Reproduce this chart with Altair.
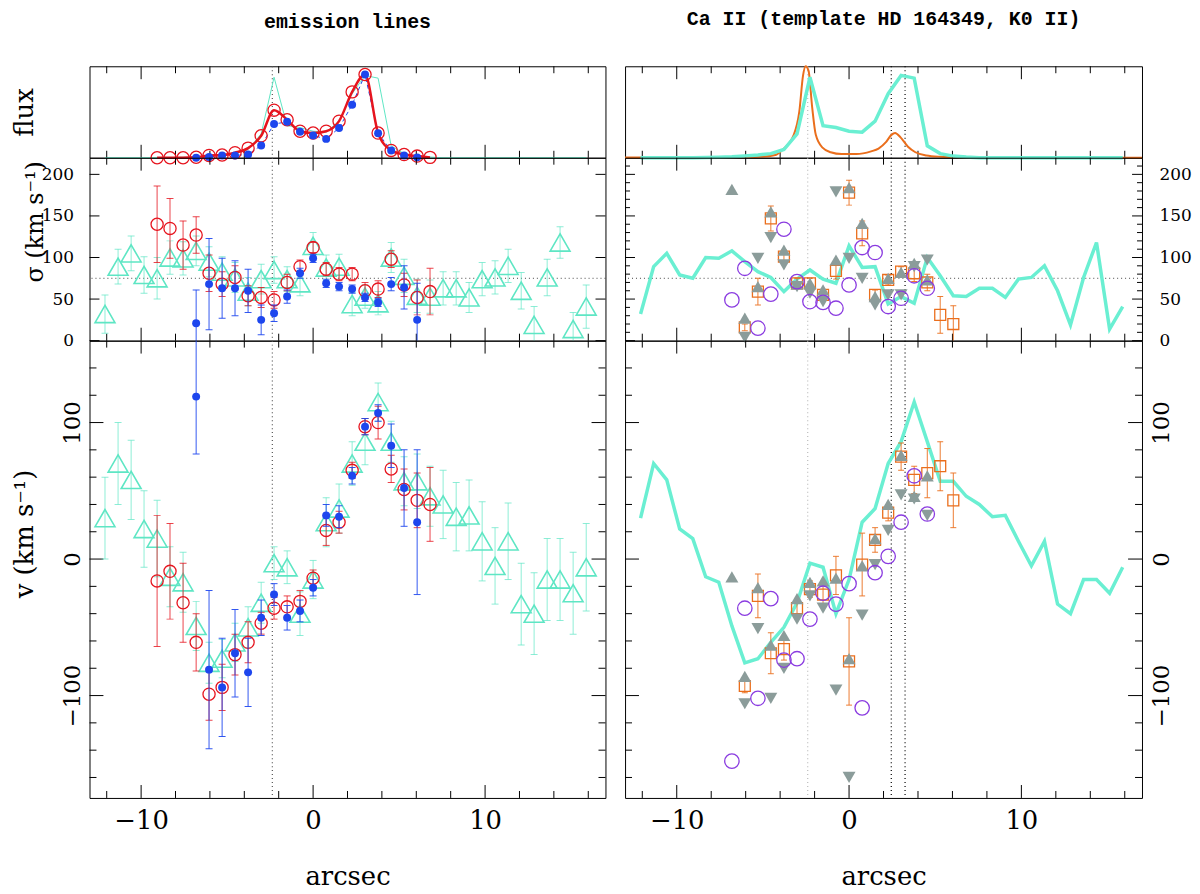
import altair as alt
import pandas as pd

# slit positions (arcsec), one spaxel every 0.756"
pos = [-12.10, -11.34, -10.58, -9.83, -9.07, -8.32, -7.56, -6.80, -6.05, -5.29,
       -4.54, -3.78, -3.02, -2.27, -1.51, -0.76, 0.00, 0.76, 1.51, 2.27,
       3.02, 3.78, 4.54, 5.29, 6.05, 6.80, 7.56, 8.32, 9.07, 9.83,
       10.58, 11.34, 12.10, 12.85, 13.61, 14.36, 15.12, 15.88]

# cyan triangles (left) / thick cyan line (right)
cyan_flux = [0, 0, 0, 0, 0, 0.003, 0.005, 0.01, 0.02, 0.03, 0.045, 0.09, 0.26, 0.88,
             0.35, 0.33, 0.29, 0.28, 0.40, 0.70, 0.90, 0.87, 0.13, 0.045, 0.018, 0.007,
             0, 0, 0, 0, 0, 0, 0, 0, 0, 0, 0, 0]
cyan_sig = [32, 89, 105, 79, 75, 100, 99, 108, 95, 83, 76, 59, 74, 85, 74, 69, 114, 88, 89,
            44, 53, 45, 100, 78, 54, 53, 63, 63, 52, 74, 76, 90, 60, 19, 76, 118, 14, 41]
cyan_sig_err = [23, 21, 21, 22, 25, 20, 20, 18, 18, 18, 18, 17, 18, 16, 15, 15, 16, 15, 15,
                14, 14, 14, 18, 20, 20, 20, 20, 20, 18, 20, 20, 20, 22, 22, 22, 19, 20, 26]
cyan_v = [30, 70, 58, 22, 15, -13, -17, -49, -76, -73, -61, -50, -32, -3, -6, -40, -15, 27, 37,
          70, 86, 115, 86, 57, 57, 46, 40, 31, 32, 13, -5, 13, -33, -40, -15, -15, -25, -6]
cyan_v_err = [30, 30, 29, 28, 28, 22, 22, 18, 15, 14, 14, 15, 15, 12, 12, 16, 14, 18, 18,
              16, 17, 14, 15, 18, 20, 22, 25, 25, 26, 29, 28, 28, 30, 30, 30, 30, 30, 32]

# red open circles
red_pos = pos[4:26]
red_flux = [0, 0, 0, 0.005, 0.025, 0.03, 0.055, 0.105, 0.24, 0.52, 0.415, 0.29, 0.27,
            0.29, 0.40, 0.72, 0.91, 0.27, 0.08, 0.035, 0.018, 0.004]
red_sig = [140, 135, 115, 127, 81, 68, 76, 54, 52, 49, 70, 89, 112, 86, 80, 80, 60, 62, 98, 67, 52, 59]
red_sig_err = [46, 36, 29, 22, 22, 15, 14, 12, 12, 10, 10, 8, 6, 8, 8, 8, 10, 10, 10, 14, 21, 28]
red_v = [-16, -9, -32, -61, -99, -94, -70, -61, -47, -36, -35, -31, -14, 21, 27, 65, 97, 100, 66, 51, 43, 40]
red_v_err = [48, 35, 29, 21, 19, 17, 15, 15, 8, 8, 8, 8, 6, 11, 8, 6, 6, 12, 10, 15, 20, 27]

# blue filled circles
blue_pos = pos[7:25]
blue_flux = [0, 0.007, 0.025, 0.025, 0.036, 0.134, 0.368, 0.393, 0.285, 0.242, 0.206,
             0.325, 0.58, 0.91, 0.267, 0.08, 0.025, 0.004]
blue_sig = [21, 68, 63, 63, 60, 25, 33, 53, 81, 99, 69, 65, 62, 52, 46, 68, 64, 25]
blue_sig_err = [40, 55, 36, 33, 26, 18, 10, 8, 6, 5, 5, 5, 5, 5, 5, 8, 26, 44]
blue_v = [119, -81, -94, -69, -83, -43, -26, -43, -38, -21, 32, 31, 61, 97, 107, 83, 52, 27]
blue_v_err = [42, 58, 36, 32, 25, 13, 8, 9, 8, 6, 8, 8, 6, 6, 6, 16, 28, 53]

# Ca II: grey triangles up / down, purple circles, orange squares
up_pos = pos[7:23]
up_sig = [182, 27, 65, 155, 109, 68, 69, 61, 97, 184, 141, 53, 75, 82, 93, 73]
up_v = [-13, -86, -21, -63, -56, -29, -17, -16, -14, -73, -5, 15, 40, 76, 46, 61]
down_pos = pos[8:23]
down_sig = [4, 99, 124, 91, 65, 57, 47, 179, 99, 75, 43, 55, 55, 89, 97]
down_v = [-106, -51, -102, -80, -44, -27, -36, -96, -160, -41, -4, 21, 47, 44, 32]
purple_pos = pos[7:23]
purple_sig = [49, 87, 15, 56, 134, 71, 47, 46, 39, 67, 112, 106, 41, 51, 78, 63]
purple_v = [-148, -36, -102, -29, -74, -73, -44, -25, -33, -18, -109, -10, 2, 27, 61, 33]
sq_pos = pos[8:25]
sq_sig = [16, 59, 147, 101, 69, 69, 55, 84, 178, 129, 55, 73, 83, 81, 70, 31, 20]
sq_sig_err = [4, 16, 15, 8, 6, 6, 6, 10, 15, 15, 6, 6, 6, 10, 10, 22, 22]
sq_v = [-93, -27, -69, -66, -36, -22, -26, -12, -75, -4, 14, 34, 75, 58, 63, 68, 43]
sq_v_err = [5, 16, 15, 8, 6, 6, 8, 14, 32, 23, 9, 6, 10, 10, 18, 18, 20]

# orange high-resolution flux profile (right, top)
ca_x = [-13.0, -8.0, -6.85, -5.13, -4.28, -3.85, -3.21, -2.89, -2.67, -2.52, -2.35, -2.14,
        -1.93, -1.54, -1.07, -0.43, 0.43, 1.28, 1.71, 2.14, 2.46, 2.67, 3.0, 3.42, 3.85,
        4.49, 5.35, 6.42, 8.13, 17.0]
ca_flux = [0.003, 0.003, 0.004, 0.01, 0.03, 0.09, 0.25, 0.5, 0.9, 1.0, 0.95, 0.55, 0.25,
           0.11, 0.06, 0.04, 0.04, 0.07, 0.1, 0.17, 0.25, 0.27, 0.22, 0.12, 0.06, 0.025,
           0.01, 0.003, 0.0, 0.0]

left_mark = [-2.37]
right_grey_mark = [-2.4]
right_marks = [2.45, 3.25]
sig_ref = [75]

x_major = [-10, 0, 10]
x_minor = [-12, -8, -6, -4, -2, 2, 4, 6, 8, 12, 14, 16]
sig_major = [0, 50, 100, 150, 200]
sig_minor = [10, 20, 30, 40, 60, 70, 80, 90, 110, 120, 130, 140, 160, 170, 180, 190, 210]
v_major = [-100, 0, 100]
v_minor = [-160, -140, -120, -80, -60, -40, -20, 20, 40, 60, 80, 120, 140]

CYAN = '#5ee6c4'
CYAN_LINE = '#6aefd2'
RED = '#e6141e'
BLUE = '#1d46ee'
PURPLE = '#8a3be0'
GRAY = '#8b9c9a'
ORANGE = '#ea6e1c'
FONT = 'DejaVu Serif'

WL, WR = 519, 520
HF, HS, HV = 92, 184, 460

XS = alt.Scale(domain=[-13, 17], nice=False, zero=False)
FS = alt.Scale(domain=[0, 1], nice=False, zero=False)
SS = alt.Scale(domain=[0, 220], nice=False, zero=False)
VS = alt.Scale(domain=[-175, 160], nice=False, zero=False)


def frame(x, y, err=None):
    df = pd.DataFrame({'x': x, 'y': y})
    if err is not None:
        df['lo'] = df['y'] - pd.Series(err)
        df['hi'] = df['y'] + pd.Series(err)
    return df


# every layer of one panel gets the same axis objects so Vega-Lite merges them cleanly
class Panel:
    def __init__(self, w, h, yscale, xaxis=None, yaxis=None):
        self.w, self.h, self.ys = w, h, yscale
        self.xa, self.ya = xaxis, yaxis
        self.layers = []

    def X(self, field='x'):
        return alt.X(f'{field}:Q', scale=XS, axis=self.xa)

    def Y(self, field='y'):
        return alt.Y(f'{field}:Q', scale=self.ys, axis=self.ya)

    def ticks(self, ymaj=(), ymin=(), ylen=(12, 6)):
        for vals, n in ((x_major, 13), (x_minor, 7)):
            c = alt.Chart(pd.DataFrame({'t': vals})).mark_rule(color='black', strokeWidth=1)
            self.layers.append(c.encode(x=self.X('t'), y=alt.value(0), y2=alt.value(n)))
            self.layers.append(c.encode(x=self.X('t'), y=alt.value(self.h), y2=alt.value(self.h - n)))
        for vals, n in ((ymaj, ylen[0]), (ymin, ylen[1])):
            if len(vals) == 0:
                continue
            c = alt.Chart(pd.DataFrame({'t': vals})).mark_rule(color='black', strokeWidth=1)
            self.layers.append(c.encode(y=self.Y('t'), x=alt.value(0), x2=alt.value(n)))
            self.layers.append(c.encode(y=self.Y('t'), x=alt.value(self.w), x2=alt.value(self.w - n)))
        return self

    def vlines(self, vals, color):
        self.layers.append(alt.Chart(pd.DataFrame({'x': vals})).mark_rule(
            color=color, strokeDash=[1, 3], strokeWidth=1.2).encode(x=self.X()))
        return self

    def hline(self, vals):
        self.layers.append(alt.Chart(pd.DataFrame({'y': vals})).mark_rule(
            color='#444', strokeDash=[1, 3], strokeWidth=1).encode(y=self.Y()))
        return self

    def errbars(self, df, color, opacity=1.0, cap=7):
        base = alt.Chart(df)
        self.layers.append(base.mark_rule(color=color, strokeWidth=1, opacity=opacity, clip=True)
                           .encode(x=self.X(), y=self.Y('lo'), y2='hi:Q'))
        for f in ('lo', 'hi'):
            self.layers.append(base.mark_tick(color=color, orient='horizontal', size=cap,
                                              thickness=1, opacity=opacity, clip=True)
                               .encode(x=self.X(), y=self.Y(f)))
        return self

    def pts(self, df, shape, color, size, filled=False, sw=1.5):
        self.layers.append(alt.Chart(df).mark_point(
            shape=shape, filled=filled, color=color, size=size, strokeWidth=sw, opacity=1)
            .encode(x=self.X(), y=self.Y()))
        return self

    def dots(self, df, color, size):
        self.layers.append(alt.Chart(df).mark_circle(color=color, size=size, opacity=1)
                           .encode(x=self.X(), y=self.Y()))
        return self

    def line(self, df, color, sw, dash=None, interp='linear'):
        kw = dict(color=color, strokeWidth=sw, interpolate=interp)
        if dash:
            kw['strokeDash'] = dash
        self.layers.append(alt.Chart(df).mark_line(**kw)
                           .encode(x=self.X(), y=self.Y(), order='x:Q'))
        return self

    def chart(self, title=None):
        c = alt.layer(*self.layers).properties(width=self.w, height=self.h)
        if title:
            c = c.properties(title=alt.TitleParams(title, offset=18, baseline='alphabetic'))
        return c


# ---------- axes ----------
ax_flux_l = alt.Axis(title='flux', labels=False, titleFontSize=26, titleAngle=270,
                     titleX=-65, titleY=HF / 2, titleAlign='center', titleBaseline='middle')
ax_sig_l = alt.Axis(values=sig_major, title='σ (km s⁻¹)', labelFontSize=17, labelPadding=16,
                    labelAlign='right', labelBaseline='middle', titleFontSize=24, titleAngle=270,
                    titleX=-54, titleY=64, titleAlign='center', titleBaseline='middle')
ax_v_l = alt.Axis(values=v_major, title='v (km s⁻¹)', labelFontSize=23, labelAngle=270,
                  labelAlign='center', labelBaseline='bottom', labelPadding=5, titleFontSize=26,
                  titleAngle=270, titleX=-65, titleY=194, titleAlign='center',
                  titleBaseline='middle')
ax_sig_r = alt.Axis(values=sig_major, orient='right', title=None, labelFontSize=17,
                    labelPadding=17, labelAlign='left', labelBaseline='middle')
ax_v_r = alt.Axis(values=v_major, orient='right', title=None, labelFontSize=23, labelAngle=270,
                  labelAlign='center', labelBaseline='top', labelPadding=9)
ax_x = alt.Axis(values=x_major, title='arcsec', labelFontSize=26, labelPadding=10,
                labelFlush=False, titleFontSize=26, titleY=87, titleBaseline='alphabetic')

cyan_f = frame(pos, cyan_flux)
cyan_s = frame(pos, cyan_sig, cyan_sig_err)
cyan_v_df = frame(pos, cyan_v, cyan_v_err)
red_f = frame(red_pos, red_flux)
red_s = frame(red_pos, red_sig, red_sig_err)
red_v_df = frame(red_pos, red_v, red_v_err)
blue_f = frame(blue_pos, blue_flux)
blue_s = frame(blue_pos, blue_sig, blue_sig_err)
blue_v_df = frame(blue_pos, blue_v, blue_v_err)
ca_f = frame(ca_x, ca_flux)
up_s = frame(up_pos, up_sig)
up_v_df = frame(up_pos, up_v)
dn_s = frame(down_pos, down_sig)
dn_v_df = frame(down_pos, down_v)
pu_s = frame(purple_pos, purple_sig)
pu_v_df = frame(purple_pos, purple_v)
sq_s = frame(sq_pos, sq_sig, sq_sig_err)
sq_v_df = frame(sq_pos, sq_v, sq_v_err)

# ---------- left column: emission lines ----------
flux_l = (Panel(WL, HF, FS, None, ax_flux_l).ticks()
          .vlines(left_mark, '#555')
          .line(cyan_f, CYAN, 1)
          .line(blue_f, BLUE, 1, dash=[4, 3])
          .line(red_f, RED, 2.5, interp='monotone')
          .pts(red_f, 'circle', RED, 150, sw=1.3)
          .dots(blue_f, BLUE, 64)
          .chart('emission lines'))

sig_l = (Panel(WL, HS, SS, None, ax_sig_l).ticks(sig_major, (), (10, 5))
         .vlines(left_mark, '#555').hline(sig_ref)
         .errbars(cyan_s, CYAN, 0.7).pts(cyan_s, 'triangle-up', CYAN, 400, sw=1.6)
         .errbars(red_s, RED, 0.8).pts(red_s, 'circle', RED, 150, sw=1.3)
         .errbars(blue_s, BLUE, 0.9).dots(blue_s, BLUE, 64)
         .chart())

v_l = (Panel(WL, HV, VS, ax_x, ax_v_l).ticks(v_major, v_minor, (14, 7))
       .vlines(left_mark, '#555')
       .errbars(cyan_v_df, CYAN, 0.7).pts(cyan_v_df, 'triangle-up', CYAN, 400, sw=1.6)
       .errbars(red_v_df, RED, 0.8).pts(red_v_df, 'circle', RED, 150, sw=1.3)
       .errbars(blue_v_df, BLUE, 0.9).dots(blue_v_df, BLUE, 64)
       .chart())

# ---------- right column: Ca II ----------
flux_r = (Panel(WR, HF, FS, None, None).ticks()
          .vlines(right_grey_mark, '#bbb').vlines(right_marks, 'black')
          .line(ca_f, ORANGE, 2, interp='monotone')
          .line(cyan_f, CYAN_LINE, 3.5)
          .chart('Ca II (template HD 164349, K0 II)'))

sig_r = (Panel(WR, HS, SS, None, ax_sig_r).ticks(sig_major, sig_minor, (10, 5))
         .vlines(right_grey_mark, '#bbb').vlines(right_marks, 'black').hline(sig_ref)
         .line(cyan_s, CYAN_LINE, 3.5)
         .errbars(sq_s, ORANGE, 0.9, cap=6).pts(sq_s, 'square', ORANGE, 121, sw=1.3)
         .pts(up_s, 'triangle-up', GRAY, 170, filled=True)
         .pts(dn_s, 'triangle-down', GRAY, 170, filled=True)
         .pts(pu_s, 'circle', PURPLE, 210, sw=1.3)
         .chart())

v_r = (Panel(WR, HV, VS, ax_x, ax_v_r).ticks(v_major, v_minor, (14, 7))
       .vlines(right_grey_mark, '#bbb').vlines(right_marks, 'black')
       .line(cyan_v_df, CYAN_LINE, 3.5)
       .errbars(sq_v_df, ORANGE, 0.9, cap=6).pts(sq_v_df, 'square', ORANGE, 121, sw=1.3)
       .pts(up_v_df, 'triangle-up', GRAY, 170, filled=True)
       .pts(dn_v_df, 'triangle-down', GRAY, 170, filled=True)
       .pts(pu_v_df, 'circle', PURPLE, 210, sw=1.3)
       .chart())

left_col = alt.vconcat(flux_l, sig_l, v_l, spacing=0, bounds='flush')
right_col = alt.vconcat(flux_r, sig_r, v_r, spacing=0, bounds='flush')

chart = alt.hconcat(left_col, right_col, spacing=13.7).properties(
    padding={'left': 3, 'top': -3, 'right': 0, 'bottom': 0}
).configure_view(
    stroke='black', strokeWidth=1
).configure_axis(
    labelFont=FONT, titleFont=FONT, labelColor='black', titleColor='black',
    titleFontWeight='normal', domain=False, ticks=False, grid=False
).configure_title(
    font='Liberation Mono', fontSize=20, fontWeight='bold', color='black', anchor='middle'
)

chart.save('out.html', embed_options={'renderer': 'svg', 'actions': False})
